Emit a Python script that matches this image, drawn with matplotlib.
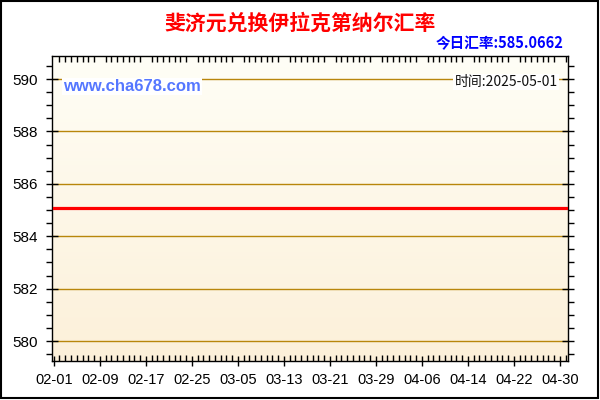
import numpy as np
import matplotlib
matplotlib.use("Agg")
import matplotlib.pyplot as plt
import matplotlib.dates as mdates
from matplotlib.patches import Rectangle
from datetime import datetime, timedelta

# data
dates = ["2025-02-01", "2025-05-01"]
rates = [585.0662, 585.0662]
title = "斐济元兑换伊拉克第纳尔汇率"
today_rate = "今日汇率:585.0662"
site = "www.cha678.com"
stamp = "时间:2025-05-01"
tick_dates = ["02-01", "02-09", "02-17", "02-25", "03-05", "03-13",
              "03-21", "03-29", "04-06", "04-14", "04-22", "04-30"]
y_ticks = [580, 582, 584, 586, 588, 590]

cjk = ["Noto Sans CJK SC", "DejaVu Sans"]
latin = ["Liberation Sans", "DejaVu Sans"]

x = [datetime.strptime(d, "%Y-%m-%d") for d in dates]

fig = plt.figure(figsize=(6, 4), dpi=100)
fig.patch.set_facecolor("white")
ax = fig.add_axes([0.0867, 0.0975, 0.86, 0.7625])

# gradient background
grad = np.linspace(0, 1, 256).reshape(-1, 1)
cmap = matplotlib.colors.LinearSegmentedColormap.from_list("bg", ["#fffef6", "#fcf0d9"])
ax.imshow(grad, extent=[0, 1, 0, 1], transform=ax.transAxes, cmap=cmap,
          aspect="auto", zorder=0, origin="upper")

for v in y_ticks:
    ax.axhline(v, color="#b8860b", lw=1, zorder=1)

ax.plot(x, rates, color="#ff0000", lw=2.3, zorder=3)

x0 = datetime(2025, 2, 1)
ax.set_xlim(x0 - timedelta(days=0.3), x0 + timedelta(days=89.4))
ax.set_ylim(579.24, 590.88)

ax.set_yticks(y_ticks)
ax.set_yticklabels([str(v) for v in y_ticks], family=latin, fontsize=11)
ax.yaxis.set_minor_locator(matplotlib.ticker.MultipleLocator(0.5))
xt = [datetime.strptime("2025-" + t, "%Y-%m-%d") for t in tick_dates]
ax.set_xticks(xt)
ax.set_xticklabels(tick_dates, family=latin, fontsize=10.5)
ax.xaxis.set_minor_locator(mdates.DayLocator())

ax.tick_params(axis="y", which="major", direction="inout", length=8, width=1,
               left=True, right=True, pad=6)
ax.tick_params(axis="y", which="minor", direction="out", length=4, width=1,
               left=True, right=True)
ax.tick_params(axis="x", which="major", direction="inout", length=7, width=1,
               top=False, bottom=True, pad=5)
ax.tick_params(axis="x", which="minor", direction="in", length=4, width=1,
               top=True, bottom=True)
for s in ax.spines.values():
    s.set_linewidth(1)
    s.set_color("black")

ax.text(0.022, 0.9, site, transform=ax.transAxes, color="#5577ff",
        fontsize=12, fontweight="bold", family=latin, va="center", ha="left",
        bbox=dict(facecolor="white", edgecolor="none", pad=1), zorder=4)
ax.text(0.98, 0.915, stamp, transform=ax.transAxes, color="#111111",
        fontsize=10, family=cjk, va="center", ha="right",
        bbox=dict(facecolor="white", edgecolor="none", pad=1), zorder=4)

fig.text(0.5, 0.943, title, color="#ff0000", fontsize=15, fontweight="bold",
         family=cjk, ha="center", va="center")
fig.text(0.94, 0.893, today_rate, color="#0000ff", fontsize=10.5, fontweight="bold",
         family=cjk, ha="right", va="center")

fig.patches.append(Rectangle((0.002, 0.004), 0.994, 0.993, transform=fig.transFigure,
                             fill=False, edgecolor="black", lw=1.5))

fig.savefig("out.png", dpi=100)
